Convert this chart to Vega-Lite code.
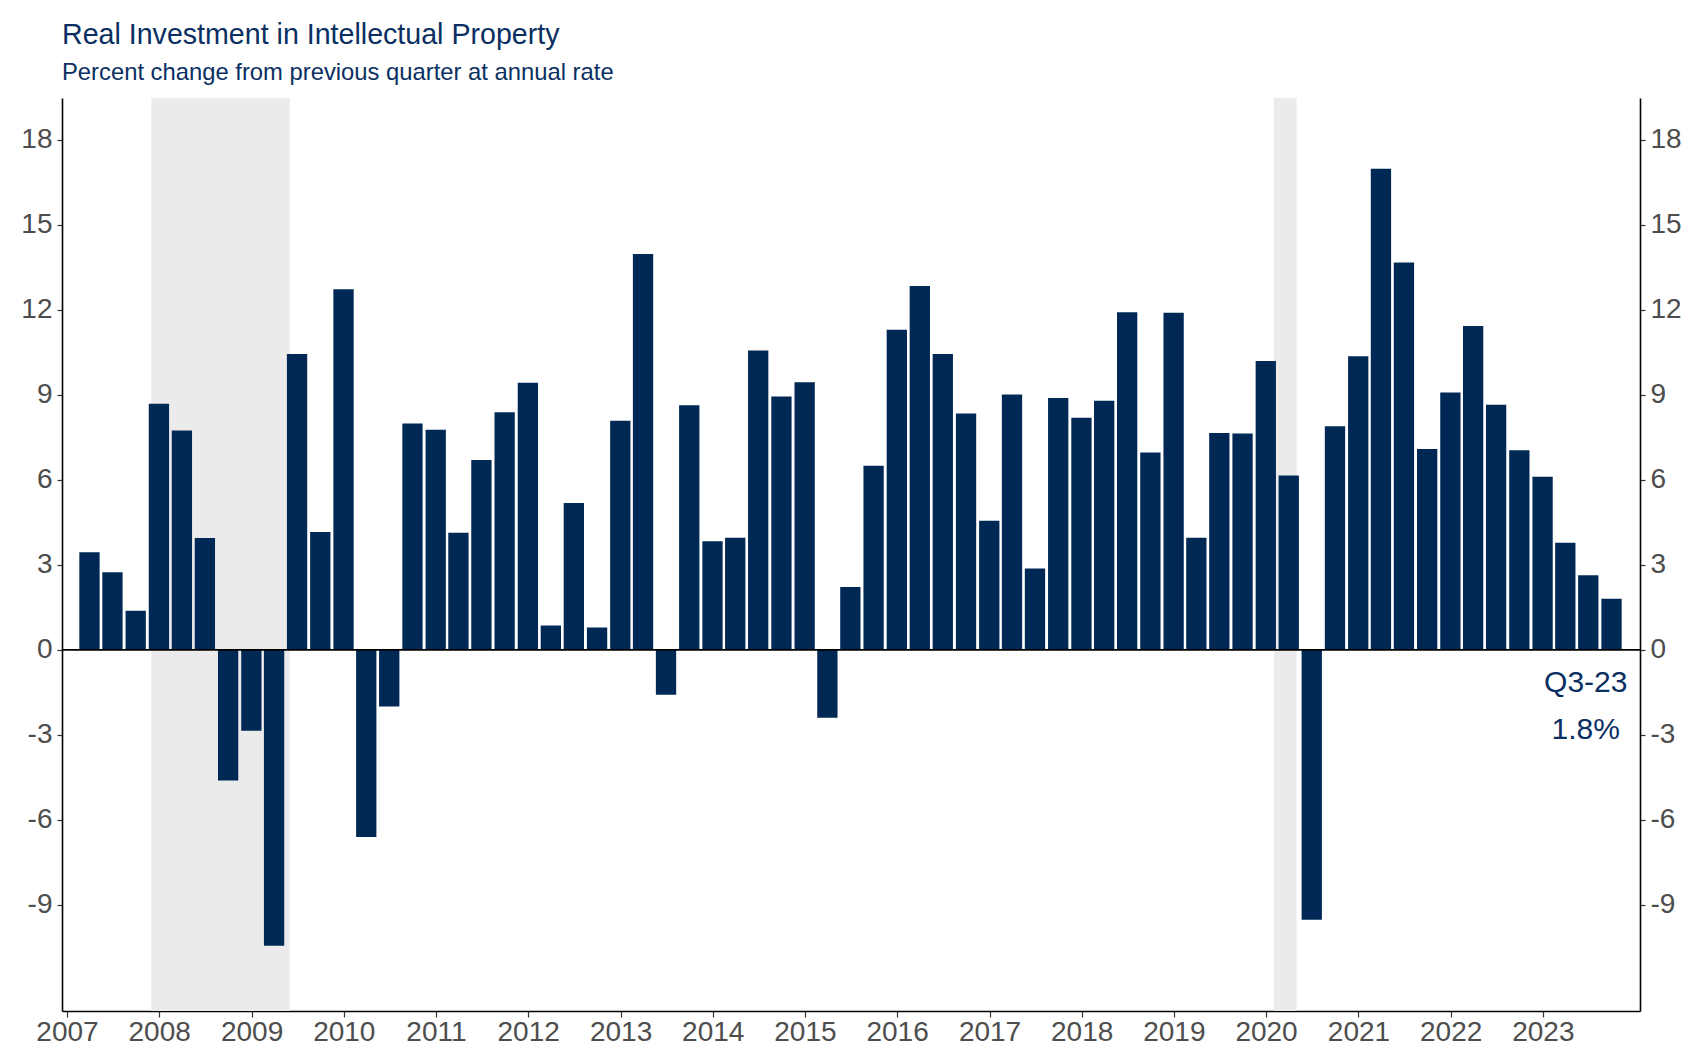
{
  "$schema": "https://vega.github.io/schema/vega-lite/v6.json",
  "width": 1578,
  "height": 913,
  "autosize": {"type": "none"},
  "padding": {"left": 62, "top": 98, "right": 61, "bottom": 50},
  "background": "white",
  "title": {
    "text": "Real Investment in Intellectual Property",
    "subtitle": "Percent change from previous quarter at annual rate",
    "anchor": "start",
    "frame": "group",
    "font": "Liberation Sans",
    "fontSize": 28.6,
    "fontWeight": "normal",
    "color": "#0a2f62",
    "subtitleFont": "Liberation Sans",
    "subtitleFontSize": 23.8,
    "subtitleColor": "#0a2f62",
    "subtitlePadding": 12,
    "offset": 13
  },
  "datasets": {
    "ipp": [
      {"date": "2007-03-31", "value": 3.44},
      {"date": "2007-06-30", "value": 2.74},
      {"date": "2007-09-30", "value": 1.38},
      {"date": "2007-12-31", "value": 8.68},
      {"date": "2008-03-31", "value": 7.74},
      {"date": "2008-06-30", "value": 3.95},
      {"date": "2008-09-30", "value": -4.61},
      {"date": "2008-12-31", "value": -2.85},
      {"date": "2009-03-31", "value": -10.44},
      {"date": "2009-06-30", "value": 10.44},
      {"date": "2009-09-30", "value": 4.16},
      {"date": "2009-12-31", "value": 12.72},
      {"date": "2010-03-31", "value": -6.6},
      {"date": "2010-06-30", "value": -2.0},
      {"date": "2010-09-30", "value": 7.99},
      {"date": "2010-12-31", "value": 7.77},
      {"date": "2011-03-31", "value": 4.13},
      {"date": "2011-06-30", "value": 6.7},
      {"date": "2011-09-30", "value": 8.38},
      {"date": "2011-12-31", "value": 9.42},
      {"date": "2012-03-31", "value": 0.86},
      {"date": "2012-06-30", "value": 5.18},
      {"date": "2012-09-30", "value": 0.79},
      {"date": "2012-12-31", "value": 8.08},
      {"date": "2013-03-31", "value": 13.97},
      {"date": "2013-06-30", "value": -1.58},
      {"date": "2013-09-30", "value": 8.63},
      {"date": "2013-12-31", "value": 3.83},
      {"date": "2014-03-31", "value": 3.96},
      {"date": "2014-06-30", "value": 10.56},
      {"date": "2014-09-30", "value": 8.94},
      {"date": "2014-12-31", "value": 9.44},
      {"date": "2015-03-31", "value": -2.39},
      {"date": "2015-06-30", "value": 2.22},
      {"date": "2015-09-30", "value": 6.5},
      {"date": "2015-12-31", "value": 11.29},
      {"date": "2016-03-31", "value": 12.84},
      {"date": "2016-06-30", "value": 10.44},
      {"date": "2016-09-30", "value": 8.34},
      {"date": "2016-12-31", "value": 4.56},
      {"date": "2017-03-31", "value": 9.01},
      {"date": "2017-06-30", "value": 2.87},
      {"date": "2017-09-30", "value": 8.89},
      {"date": "2017-12-31", "value": 8.19},
      {"date": "2018-03-31", "value": 8.79},
      {"date": "2018-06-30", "value": 11.91},
      {"date": "2018-09-30", "value": 6.96},
      {"date": "2018-12-31", "value": 11.89},
      {"date": "2019-03-31", "value": 3.96},
      {"date": "2019-06-30", "value": 7.65},
      {"date": "2019-09-30", "value": 7.63},
      {"date": "2019-12-31", "value": 10.19},
      {"date": "2020-03-31", "value": 6.15},
      {"date": "2020-06-30", "value": -9.52},
      {"date": "2020-09-30", "value": 7.89},
      {"date": "2020-12-31", "value": 10.36},
      {"date": "2021-03-31", "value": 16.97},
      {"date": "2021-06-30", "value": 13.67},
      {"date": "2021-09-30", "value": 7.09},
      {"date": "2021-12-31", "value": 9.08},
      {"date": "2022-03-31", "value": 11.43},
      {"date": "2022-06-30", "value": 8.65},
      {"date": "2022-09-30", "value": 7.04},
      {"date": "2022-12-31", "value": 6.11},
      {"date": "2023-03-31", "value": 3.78},
      {"date": "2023-06-30", "value": 2.63},
      {"date": "2023-09-30", "value": 1.8}
    ],
    "rec": [
      {"start": "2007-12-01", "end": "2009-06-01"},
      {"start": "2020-02-01", "end": "2020-05-01"}
    ]
  },
  "layer": [
    {
      "data": {"name": "rec"},
      "mark": {"type": "rect", "color": "#ebebeb"},
      "encoding": {
        "x": {
          "field": "start",
          "type": "temporal",
          "scale": {
            "type": "utc",
            "domain": [
              {"year": 2007, "month": 1, "date": 1, "utc": true},
              {"year": 2024, "month": 1, "date": 1, "utc": true}
            ]
          },
          "axis": {
            "values": [
              {"year": 2007, "month": 1, "date": 1, "utc": true},
              {"year": 2008, "month": 1, "date": 1, "utc": true},
              {"year": 2009, "month": 1, "date": 1, "utc": true},
              {"year": 2010, "month": 1, "date": 1, "utc": true},
              {"year": 2011, "month": 1, "date": 1, "utc": true},
              {"year": 2012, "month": 1, "date": 1, "utc": true},
              {"year": 2013, "month": 1, "date": 1, "utc": true},
              {"year": 2014, "month": 1, "date": 1, "utc": true},
              {"year": 2015, "month": 1, "date": 1, "utc": true},
              {"year": 2016, "month": 1, "date": 1, "utc": true},
              {"year": 2017, "month": 1, "date": 1, "utc": true},
              {"year": 2018, "month": 1, "date": 1, "utc": true},
              {"year": 2019, "month": 1, "date": 1, "utc": true},
              {"year": 2020, "month": 1, "date": 1, "utc": true},
              {"year": 2021, "month": 1, "date": 1, "utc": true},
              {"year": 2022, "month": 1, "date": 1, "utc": true},
              {"year": 2023, "month": 1, "date": 1, "utc": true}
            ],
            "format": "%Y",
            "formatType": "utc",
            "title": null,
            "labelPadding": 1,
            "labelFlush": false,
            "labelOverlap": false
          }
        },
        "x2": {"field": "end"}
      }
    },
    {
      "data": {"name": "ipp"},
      "mark": {"type": "bar", "color": "#002855", "width": 20.3},
      "encoding": {
        "x": {"field": "date", "type": "temporal"},
        "y": {
          "field": "value",
          "type": "quantitative",
          "scale": {"domain": [-12.74, 19.47], "nice": false, "zero": false},
          "axis": {
            "orient": "left",
            "values": [-9, -6, -3, 0, 3, 6, 9, 12, 15, 18],
            "labelExpr": "'' + datum.value",
            "title": null,
            "tickSize": 5,
            "labelPadding": 5
          }
        }
      }
    },
    {
      "data": {"values": [{}]},
      "mark": {"type": "rule", "color": "#000000", "strokeWidth": 1.6},
      "encoding": {
        "y": {
          "datum": 0,
          "type": "quantitative",
          "scale": {"domain": [-12.74, 19.47], "nice": false, "zero": false},
          "axis": {
            "orient": "right",
            "values": [-9, -6, -3, 0, 3, 6, 9, 12, 15, 18],
            "labelExpr": "'' + datum.value",
            "title": null,
            "tickSize": 5,
            "labelPadding": 5
          }
        }
      }
    },
    {
      "data": {"values": [{}]},
      "mark": {"type": "text", "text": "Q3-23", "font": "Liberation Sans", "fontSize": 30, "color": "#0a2f62", "align": "center", "baseline": "middle"},
      "encoding": {
        "x": {"datum": {"year": 2023, "month": 6, "date": 20, "utc": true}, "type": "temporal"},
        "y": {"datum": -1.18, "type": "quantitative", "axis": null}
      }
    },
    {
      "data": {"values": [{}]},
      "mark": {"type": "text", "text": "1.8%", "font": "Liberation Sans", "fontSize": 30, "color": "#0a2f62", "align": "center", "baseline": "middle"},
      "encoding": {
        "x": {"datum": {"year": 2023, "month": 6, "date": 20, "utc": true}, "type": "temporal"},
        "y": {"datum": -2.82, "type": "quantitative", "axis": null}
      }
    }
  ],
  "resolve": {"axis": {"y": "independent"}},
  "config": {
    "view": {"stroke": null},
    "axis": {
      "grid": false,
      "labelFont": "Liberation Sans",
      "labelFontSize": 28,
      "labelColor": "#4d4d4d",
      "domainColor": "#000000",
      "domainWidth": 1.6,
      "tickColor": "#333333",
      "tickSize": 6,
      "tickWidth": 1.2
    }
  }
}
